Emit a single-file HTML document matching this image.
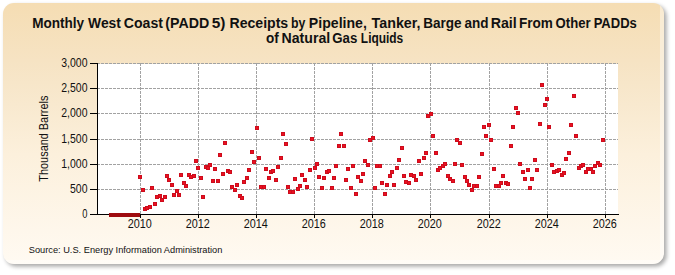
<!DOCTYPE html><html><head><meta charset="utf-8"><style>html,body{margin:0;padding:0;background:#fff;width:675px;height:275px;overflow:hidden}svg{display:block}</style></head><body><svg width="675" height="275" viewBox="0 0 675 275">
<defs>
<linearGradient id="bg" x1="0" y1="0" x2="0" y2="1">
<stop offset="0" stop-color="#f5ddb3"/>
<stop offset="0.22" stop-color="#f6e3c3"/>
<stop offset="0.39" stop-color="#f8e9cf"/>
<stop offset="0.58" stop-color="#fcf0dc"/>
<stop offset="1" stop-color="#fffaf2"/>
</linearGradient>
<filter id="sh" x="-5%" y="-5%" width="110%" height="110%"><feGaussianBlur stdDeviation="1.9"/></filter>
</defs>
<rect x="0" y="0" width="675" height="275" fill="#ffffff"/>
<rect x="5.5" y="5.5" width="661" height="261" rx="11" fill="#000" opacity="0.34" filter="url(#sh)"/>
<rect x="3" y="3" width="661" height="261" rx="11" fill="url(#bg)"/>
<clipPath id="pc"><rect x="3" y="3" width="661" height="261" rx="11"/></clipPath>
<g clip-path="url(#pc)" fill="#fff" opacity="0.4"><rect x="660" y="3" width="4" height="261"/><rect x="3" y="260" width="657" height="4"/></g>
<rect x="98" y="64" width="520" height="150" fill="#ffffff"/>
<path d="M97 63.5H618 M97 88.5H618 M97 113.5H618 M97 139.5H618 M97 164.5H618 M97 189.5H618 M140.5 63V214 M198.5 63V214 M256.5 63V214 M314.5 63V214 M372.5 63V214 M430.5 63V214 M489.5 63V214 M547.5 63V214 M605.5 63V214" stroke="#a2a2a2" stroke-width="1" stroke-dasharray="3 1" fill="none" shape-rendering="crispEdges"/>
<path d="M97.5 63V214 M90 214.5H619 M90 63.5H97 M90 88.5H97 M90 113.5H97 M90 139.5H97 M90 164.5H97 M90 189.5H97 M140.5 215V218 M198.5 215V218 M256.5 215V218 M314.5 215V218 M372.5 215V218 M430.5 215V218 M489.5 215V218 M547.5 215V218 M605.5 215V218" stroke="#000" stroke-width="1" fill="none" shape-rendering="crispEdges"/>
<rect x="109" y="213" width="31" height="4" fill="#9e0b0f"/>
<g fill="#ec1020" stroke="#cc0c1c" stroke-width="1" shape-rendering="crispEdges"><rect x="138.5" y="175.5" width="3" height="3"/><rect x="141.5" y="188.5" width="3" height="3"/><rect x="143.5" y="207.5" width="3" height="3"/><rect x="145.5" y="206.5" width="3" height="3"/><rect x="148.5" y="205.5" width="3" height="3"/><rect x="150.5" y="186.5" width="3" height="3"/><rect x="153.5" y="202.5" width="3" height="3"/><rect x="155.5" y="195.5" width="3" height="3"/><rect x="158.5" y="194.5" width="3" height="3"/><rect x="160.5" y="198.5" width="3" height="3"/><rect x="163.5" y="195.5" width="3" height="3"/><rect x="165.5" y="174.5" width="3" height="3"/><rect x="167.5" y="178.5" width="3" height="3"/><rect x="170.5" y="183.5" width="3" height="3"/><rect x="172.5" y="193.5" width="3" height="3"/><rect x="175.5" y="189.5" width="3" height="3"/><rect x="177.5" y="193.5" width="3" height="3"/><rect x="179.5" y="173.5" width="3" height="3"/><rect x="182.5" y="181.5" width="3" height="3"/><rect x="184.5" y="184.5" width="3" height="3"/><rect x="187.5" y="173.5" width="3" height="3"/><rect x="189.5" y="175.5" width="3" height="3"/><rect x="192.5" y="174.5" width="3" height="3"/><rect x="194.5" y="159.5" width="3" height="3"/><rect x="196.5" y="166.5" width="3" height="3"/><rect x="199.5" y="176.5" width="3" height="3"/><rect x="201.5" y="195.5" width="3" height="3"/><rect x="204.5" y="165.5" width="3" height="3"/><rect x="206.5" y="166.5" width="3" height="3"/><rect x="208.5" y="163.5" width="3" height="3"/><rect x="211.5" y="179.5" width="3" height="3"/><rect x="213.5" y="167.5" width="3" height="3"/><rect x="216.5" y="179.5" width="3" height="3"/><rect x="218.5" y="153.5" width="3" height="3"/><rect x="221.5" y="172.5" width="3" height="3"/><rect x="223.5" y="141.5" width="3" height="3"/><rect x="226.5" y="169.5" width="3" height="3"/><rect x="228.5" y="170.5" width="3" height="3"/><rect x="230.5" y="185.5" width="3" height="3"/><rect x="233.5" y="188.5" width="3" height="3"/><rect x="235.5" y="183.5" width="3" height="3"/><rect x="238.5" y="194.5" width="3" height="3"/><rect x="240.5" y="196.5" width="3" height="3"/><rect x="242.5" y="180.5" width="3" height="3"/><rect x="245.5" y="176.5" width="3" height="3"/><rect x="247.5" y="168.5" width="3" height="3"/><rect x="250.5" y="150.5" width="3" height="3"/><rect x="252.5" y="160.5" width="3" height="3"/><rect x="255.5" y="126.5" width="3" height="3"/><rect x="257.5" y="156.5" width="3" height="3"/><rect x="259.5" y="185.5" width="3" height="3"/><rect x="262.5" y="185.5" width="3" height="3"/><rect x="264.5" y="167.5" width="3" height="3"/><rect x="267.5" y="176.5" width="3" height="3"/><rect x="269.5" y="170.5" width="3" height="3"/><rect x="271.5" y="169.5" width="3" height="3"/><rect x="274.5" y="178.5" width="3" height="3"/><rect x="276.5" y="165.5" width="3" height="3"/><rect x="279.5" y="156.5" width="3" height="3"/><rect x="281.5" y="132.5" width="3" height="3"/><rect x="284.5" y="142.5" width="3" height="3"/><rect x="286.5" y="185.5" width="3" height="3"/><rect x="288.5" y="190.5" width="3" height="3"/><rect x="291.5" y="190.5" width="3" height="3"/><rect x="293.5" y="177.5" width="3" height="3"/><rect x="296.5" y="187.5" width="3" height="3"/><rect x="298.5" y="184.5" width="3" height="3"/><rect x="300.5" y="173.5" width="3" height="3"/><rect x="303.5" y="178.5" width="3" height="3"/><rect x="305.5" y="185.5" width="3" height="3"/><rect x="308.5" y="168.5" width="3" height="3"/><rect x="310.5" y="137.5" width="3" height="3"/><rect x="313.5" y="166.5" width="3" height="3"/><rect x="315.5" y="162.5" width="3" height="3"/><rect x="317.5" y="175.5" width="3" height="3"/><rect x="320.5" y="186.5" width="3" height="3"/><rect x="322.5" y="176.5" width="3" height="3"/><rect x="325.5" y="170.5" width="3" height="3"/><rect x="327.5" y="169.5" width="3" height="3"/><rect x="330.5" y="186.5" width="3" height="3"/><rect x="332.5" y="176.5" width="3" height="3"/><rect x="334.5" y="164.5" width="3" height="3"/><rect x="337.5" y="144.5" width="3" height="3"/><rect x="339.5" y="132.5" width="3" height="3"/><rect x="342.5" y="144.5" width="3" height="3"/><rect x="344.5" y="178.5" width="3" height="3"/><rect x="346.5" y="167.5" width="3" height="3"/><rect x="349.5" y="186.5" width="3" height="3"/><rect x="351.5" y="164.5" width="3" height="3"/><rect x="354.5" y="192.5" width="3" height="3"/><rect x="356.5" y="175.5" width="3" height="3"/><rect x="359.5" y="179.5" width="3" height="3"/><rect x="361.5" y="172.5" width="3" height="3"/><rect x="363.5" y="159.5" width="3" height="3"/><rect x="366.5" y="163.5" width="3" height="3"/><rect x="368.5" y="138.5" width="3" height="3"/><rect x="371.5" y="136.5" width="3" height="3"/><rect x="373.5" y="186.5" width="3" height="3"/><rect x="375.5" y="164.5" width="3" height="3"/><rect x="378.5" y="164.5" width="3" height="3"/><rect x="380.5" y="181.5" width="3" height="3"/><rect x="383.5" y="192.5" width="3" height="3"/><rect x="385.5" y="183.5" width="3" height="3"/><rect x="388.5" y="174.5" width="3" height="3"/><rect x="390.5" y="170.5" width="3" height="3"/><rect x="392.5" y="183.5" width="3" height="3"/><rect x="395.5" y="166.5" width="3" height="3"/><rect x="397.5" y="158.5" width="3" height="3"/><rect x="400.5" y="146.5" width="3" height="3"/><rect x="402.5" y="174.5" width="3" height="3"/><rect x="404.5" y="180.5" width="3" height="3"/><rect x="407.5" y="181.5" width="3" height="3"/><rect x="409.5" y="173.5" width="3" height="3"/><rect x="412.5" y="174.5" width="3" height="3"/><rect x="414.5" y="178.5" width="3" height="3"/><rect x="417.5" y="159.5" width="3" height="3"/><rect x="419.5" y="172.5" width="3" height="3"/><rect x="422.5" y="156.5" width="3" height="3"/><rect x="424.5" y="151.5" width="3" height="3"/><rect x="426.5" y="114.5" width="3" height="3"/><rect x="429.5" y="112.5" width="3" height="3"/><rect x="431.5" y="134.5" width="3" height="3"/><rect x="434.5" y="151.5" width="3" height="3"/><rect x="436.5" y="168.5" width="3" height="3"/><rect x="438.5" y="166.5" width="3" height="3"/><rect x="441.5" y="164.5" width="3" height="3"/><rect x="443.5" y="162.5" width="3" height="3"/><rect x="446.5" y="174.5" width="3" height="3"/><rect x="448.5" y="177.5" width="3" height="3"/><rect x="451.5" y="179.5" width="3" height="3"/><rect x="453.5" y="162.5" width="3" height="3"/><rect x="455.5" y="138.5" width="3" height="3"/><rect x="458.5" y="141.5" width="3" height="3"/><rect x="460.5" y="163.5" width="3" height="3"/><rect x="463.5" y="175.5" width="3" height="3"/><rect x="465.5" y="179.5" width="3" height="3"/><rect x="467.5" y="183.5" width="3" height="3"/><rect x="470.5" y="188.5" width="3" height="3"/><rect x="472.5" y="184.5" width="3" height="3"/><rect x="475.5" y="184.5" width="3" height="3"/><rect x="477.5" y="175.5" width="3" height="3"/><rect x="480.5" y="152.5" width="3" height="3"/><rect x="482.5" y="125.5" width="3" height="3"/><rect x="484.5" y="134.5" width="3" height="3"/><rect x="487.5" y="123.5" width="3" height="3"/><rect x="489.5" y="138.5" width="3" height="3"/><rect x="492.5" y="167.5" width="3" height="3"/><rect x="494.5" y="184.5" width="3" height="3"/><rect x="497.5" y="184.5" width="3" height="3"/><rect x="499.5" y="181.5" width="3" height="3"/><rect x="501.5" y="174.5" width="3" height="3"/><rect x="504.5" y="181.5" width="3" height="3"/><rect x="506.5" y="182.5" width="3" height="3"/><rect x="509.5" y="144.5" width="3" height="3"/><rect x="511.5" y="125.5" width="3" height="3"/><rect x="514.5" y="106.5" width="3" height="3"/><rect x="516.5" y="111.5" width="3" height="3"/><rect x="518.5" y="162.5" width="3" height="3"/><rect x="521.5" y="170.5" width="3" height="3"/><rect x="523.5" y="177.5" width="3" height="3"/><rect x="526.5" y="168.5" width="3" height="3"/><rect x="528.5" y="186.5" width="3" height="3"/><rect x="530.5" y="177.5" width="3" height="3"/><rect x="533.5" y="158.5" width="3" height="3"/><rect x="535.5" y="168.5" width="3" height="3"/><rect x="538.5" y="122.5" width="3" height="3"/><rect x="540.5" y="83.5" width="3" height="3"/><rect x="543.5" y="103.5" width="3" height="3"/><rect x="545.5" y="97.5" width="3" height="3"/><rect x="547.5" y="125.5" width="3" height="3"/><rect x="550.5" y="163.5" width="3" height="3"/><rect x="552.5" y="170.5" width="3" height="3"/><rect x="555.5" y="169.5" width="3" height="3"/><rect x="557.5" y="168.5" width="3" height="3"/><rect x="560.5" y="173.5" width="3" height="3"/><rect x="562.5" y="171.5" width="3" height="3"/><rect x="564.5" y="157.5" width="3" height="3"/><rect x="567.5" y="151.5" width="3" height="3"/><rect x="569.5" y="123.5" width="3" height="3"/><rect x="572.5" y="94.5" width="3" height="3"/><rect x="574.5" y="134.5" width="3" height="3"/><rect x="577.5" y="166.5" width="3" height="3"/><rect x="579.5" y="164.5" width="3" height="3"/><rect x="581.5" y="163.5" width="3" height="3"/><rect x="584.5" y="170.5" width="3" height="3"/><rect x="586.5" y="167.5" width="3" height="3"/><rect x="589.5" y="167.5" width="3" height="3"/><rect x="591.5" y="170.5" width="3" height="3"/><rect x="593.5" y="164.5" width="3" height="3"/><rect x="596.5" y="161.5" width="3" height="3"/><rect x="598.5" y="163.5" width="3" height="3"/><rect x="601.5" y="138.5" width="3" height="3"/></g>
<text x="61.30" y="67.0" textLength="26.2" lengthAdjust="spacingAndGlyphs" font-family="Liberation Sans" font-size="12.8" fill="#111">3,000</text>
<text x="61.30" y="92.0" textLength="26.2" lengthAdjust="spacingAndGlyphs" font-family="Liberation Sans" font-size="12.8" fill="#111">2,500</text>
<text x="61.30" y="117.0" textLength="26.2" lengthAdjust="spacingAndGlyphs" font-family="Liberation Sans" font-size="12.8" fill="#111">2,000</text>
<text x="61.30" y="143.0" textLength="26.2" lengthAdjust="spacingAndGlyphs" font-family="Liberation Sans" font-size="12.8" fill="#111">1,500</text>
<text x="61.30" y="168.0" textLength="26.2" lengthAdjust="spacingAndGlyphs" font-family="Liberation Sans" font-size="12.8" fill="#111">1,000</text>
<text x="70.00" y="193.0" textLength="17.5" lengthAdjust="spacingAndGlyphs" font-family="Liberation Sans" font-size="12.8" fill="#111">500</text>
<text x="82.30" y="218.0" textLength="5.2" lengthAdjust="spacingAndGlyphs" font-family="Liberation Sans" font-size="12.8" fill="#111">0</text>
<text x="127.70" y="227.8" textLength="24.1" lengthAdjust="spacingAndGlyphs" font-family="Liberation Sans" font-size="12.8" fill="#111">2010</text>
<text x="185.70" y="227.8" textLength="24.1" lengthAdjust="spacingAndGlyphs" font-family="Liberation Sans" font-size="12.8" fill="#111">2012</text>
<text x="243.70" y="227.8" textLength="24.1" lengthAdjust="spacingAndGlyphs" font-family="Liberation Sans" font-size="12.8" fill="#111">2014</text>
<text x="301.70" y="227.8" textLength="24.1" lengthAdjust="spacingAndGlyphs" font-family="Liberation Sans" font-size="12.8" fill="#111">2016</text>
<text x="359.70" y="227.8" textLength="24.1" lengthAdjust="spacingAndGlyphs" font-family="Liberation Sans" font-size="12.8" fill="#111">2018</text>
<text x="417.70" y="227.8" textLength="24.1" lengthAdjust="spacingAndGlyphs" font-family="Liberation Sans" font-size="12.8" fill="#111">2020</text>
<text x="476.70" y="227.8" textLength="24.1" lengthAdjust="spacingAndGlyphs" font-family="Liberation Sans" font-size="12.8" fill="#111">2022</text>
<text x="534.70" y="227.8" textLength="24.1" lengthAdjust="spacingAndGlyphs" font-family="Liberation Sans" font-size="12.8" fill="#111">2024</text>
<text x="592.70" y="227.8" textLength="24.1" lengthAdjust="spacingAndGlyphs" font-family="Liberation Sans" font-size="12.8" fill="#111">2026</text>
<text transform="translate(48 138.65) rotate(-90)" text-anchor="middle" textLength="86" lengthAdjust="spacingAndGlyphs" font-family="Liberation Sans" font-size="12.8" fill="#111">Thousand Barrels</text>
<text x="32.13" y="27.7" textLength="51.92" lengthAdjust="spacingAndGlyphs" font-family="Liberation Sans" font-weight="bold" font-size="14" fill="#111">Monthly</text>
<text x="88.1" y="27.7" textLength="32.8" lengthAdjust="spacingAndGlyphs" font-family="Liberation Sans" font-weight="bold" font-size="14" fill="#111">West</text>
<text x="123.77" y="27.7" textLength="39.19" lengthAdjust="spacingAndGlyphs" font-family="Liberation Sans" font-weight="bold" font-size="14" fill="#111">Coast</text>
<text x="165.24" y="27.7" textLength="43.92" lengthAdjust="spacingAndGlyphs" font-family="Liberation Sans" font-weight="bold" font-size="14" fill="#111">(PADD</text>
<text x="211.65" y="27.7" textLength="13.73" lengthAdjust="spacingAndGlyphs" font-family="Liberation Sans" font-weight="bold" font-size="14" fill="#111">5)</text>
<text x="229.49" y="27.7" textLength="58.72" lengthAdjust="spacingAndGlyphs" font-family="Liberation Sans" font-weight="bold" font-size="14" fill="#111">Receipts</text>
<text x="290.93" y="27.7" textLength="14.35" lengthAdjust="spacingAndGlyphs" font-family="Liberation Sans" font-weight="bold" font-size="14" fill="#111">by</text>
<text x="308.89" y="27.7" textLength="57.97" lengthAdjust="spacingAndGlyphs" font-family="Liberation Sans" font-weight="bold" font-size="14" fill="#111">Pipeline,</text>
<text x="371.57" y="27.7" textLength="48.95" lengthAdjust="spacingAndGlyphs" font-family="Liberation Sans" font-weight="bold" font-size="14" fill="#111">Tanker,</text>
<text x="423.13" y="27.7" textLength="38.39" lengthAdjust="spacingAndGlyphs" font-family="Liberation Sans" font-weight="bold" font-size="14" fill="#111">Barge</text>
<text x="464.44" y="27.7" textLength="24.02" lengthAdjust="spacingAndGlyphs" font-family="Liberation Sans" font-weight="bold" font-size="14" fill="#111">and</text>
<text x="490.68" y="27.7" textLength="26.1" lengthAdjust="spacingAndGlyphs" font-family="Liberation Sans" font-weight="bold" font-size="14" fill="#111">Rail</text>
<text x="518.93" y="27.7" textLength="33.92" lengthAdjust="spacingAndGlyphs" font-family="Liberation Sans" font-weight="bold" font-size="14" fill="#111">From</text>
<text x="555.61" y="27.7" textLength="34.99" lengthAdjust="spacingAndGlyphs" font-family="Liberation Sans" font-weight="bold" font-size="14" fill="#111">Other</text>
<text x="593.67" y="27.7" textLength="43.14" lengthAdjust="spacingAndGlyphs" font-family="Liberation Sans" font-weight="bold" font-size="14" fill="#111">PADDs</text>
<text x="265.92" y="42.7" textLength="12.75" lengthAdjust="spacingAndGlyphs" font-family="Liberation Sans" font-weight="bold" font-size="14" fill="#111">of</text>
<text x="281.59" y="42.7" textLength="48.6" lengthAdjust="spacingAndGlyphs" font-family="Liberation Sans" font-weight="bold" font-size="14" fill="#111">Natural</text>
<text x="332.21" y="42.7" textLength="25.05" lengthAdjust="spacingAndGlyphs" font-family="Liberation Sans" font-weight="bold" font-size="14" fill="#111">Gas</text>
<text x="360.85" y="42.7" textLength="42.4" lengthAdjust="spacingAndGlyphs" font-family="Liberation Sans" font-weight="bold" font-size="14" fill="#111">Liquids</text>
<text x="28.8" y="252.8" textLength="193.6" lengthAdjust="spacingAndGlyphs" font-family="Liberation Sans" font-size="9.5" fill="#111">Source: U.S. Energy Information Administration</text>
</svg></body></html>
